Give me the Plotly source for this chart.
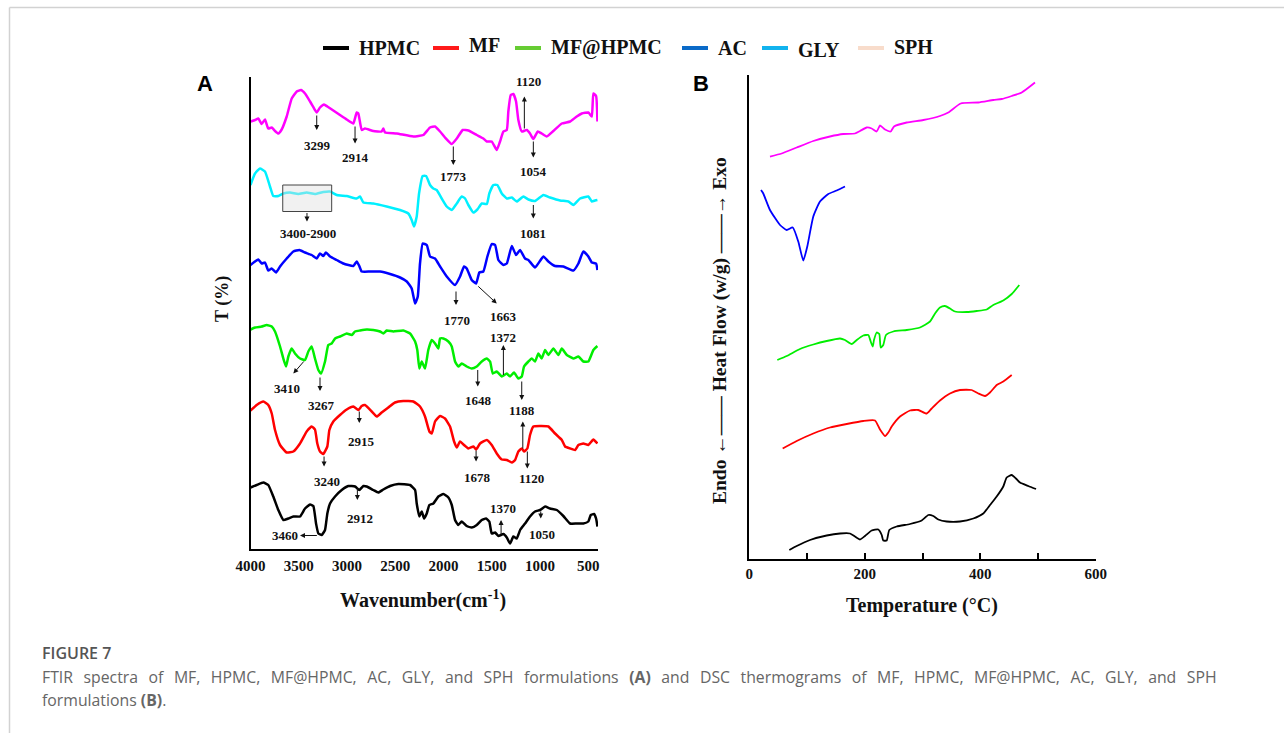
import plotly.graph_objects as go

W, H = 1284, 733

# ---------------- FTIR spectra (panel A): wavenumber (cm-1) vs stacked transmittance (a.u.)
hpmc_wn = [4000, 3936, 3867, 3816, 3764, 3712, 3660, 3608, 3556, 3487, 3435, 3383, 3349, 3321, 3297, 3262,
           3228, 3204, 3176, 3124, 3055, 2987, 2917, 2873, 2831, 2796, 2728, 2676, 2624, 2554, 2468, 2347,
           2295, 2278, 2251, 2226, 2202, 2174, 2147, 2106, 2054, 2002, 1950, 1915, 1881, 1847, 1812, 1760,
           1708, 1656, 1604, 1560, 1526, 1501, 1466, 1432, 1380, 1345, 1311, 1277, 1242, 1207, 1156, 1104,
           1052, 1000, 948, 897, 827, 759, 689, 620, 552, 500, 475, 441, 420, 406]
hpmc_t = [12.5, 13.0, 13.5, 13.0, 10.7, 8.0, 6.0, 6.3, 6.7, 6.7, 8.3, 9.1, 8.8, 5.3, 3.3, 3.0,
          4.0, 7.3, 9.3, 10.7, 12.0, 12.8, 12.7, 12.0, 12.8, 12.7, 12.0, 11.5, 12.1, 12.8, 13.2, 13.0,
          12.0, 9.3, 6.7, 7.7, 6.3, 7.3, 9.0, 9.3, 10.7, 11.2, 10.5, 9.0, 6.0, 5.0, 5.7, 4.8,
          4.5, 5.0, 6.0, 6.3, 5.7, 3.3, 3.5, 2.8, 3.2, 2.5, 1.3, 2.7, 2.3, 4.0, 5.3, 6.7,
          7.7, 8.0, 8.7, 8.3, 8.0, 6.8, 5.3, 5.3, 5.3, 5.7, 7.0, 7.2, 6.3, 4.7]

mf_wn = [4000, 3936, 3867, 3816, 3780, 3746, 3694, 3625, 3556, 3487, 3418, 3366, 3332, 3308, 3280, 3246,
         3204, 3183, 3142, 3073, 3003, 2935, 2883, 2848, 2814, 2744, 2692, 2641, 2572, 2503, 2417, 2313,
         2244, 2192, 2147, 2122, 2088, 2036, 1985, 1933, 1891, 1863, 1829, 1788, 1743, 1691, 1663, 1622,
         1552, 1501, 1449, 1397, 1345, 1293, 1259, 1225, 1190, 1166, 1132, 1104, 1070, 1000, 914, 845,
         775, 741, 689, 637, 603, 552, 500, 448, 406]
mf_t = [27.9, 29.0, 29.7, 29.0, 27.3, 24.0, 21.0, 19.5, 19.7, 21.3, 23.7, 24.7, 24.1, 21.3, 19.7, 19.2,
        20.7, 24.0, 25.7, 27.0, 28.1, 28.7, 28.0, 28.8, 29.0, 27.7, 26.7, 27.5, 28.5, 29.5, 29.8, 29.7,
        28.7, 26.7, 23.7, 23.3, 25.7, 26.8, 26.3, 24.7, 21.7, 20.5, 21.7, 21.0, 20.3, 20.7, 20.1, 21.3,
        22.0, 21.0, 19.3, 18.1, 18.0, 17.5, 18.0, 19.7, 20.3, 19.7, 20.3, 23.0, 24.7, 24.8, 24.7, 23.3,
        22.0, 20.7, 20.3, 20.0, 21.0, 21.3, 21.0, 22.1, 21.3]

mfh_wn = [4000, 3953, 3884, 3832, 3780, 3746, 3694, 3660, 3632, 3608, 3573, 3539, 3487, 3435, 3401, 3366,
          3332, 3297, 3269, 3228, 3194, 3159, 3124, 3073, 3003, 2951, 2917, 2865, 2796, 2728, 2658, 2624,
          2589, 2520, 2417, 2347, 2295, 2272, 2251, 2226, 2192, 2158, 2122, 2088, 2054, 2036, 2002, 1950,
          1915, 1881, 1847, 1812, 1760, 1708, 1656, 1604, 1552, 1518, 1490, 1449, 1397, 1345, 1311, 1270,
          1225, 1190, 1166, 1121, 1086, 1052, 1018, 983, 948, 914, 862, 811, 775, 723, 655, 603,
          552, 500, 448, 406]
mfh_t = [44.1, 44.5, 44.7, 45.0, 44.7, 43.7, 40.7, 38.3, 36.7, 38.7, 40.3, 39.3, 38.3, 38.0, 39.7, 40.7,
         38.3, 36.0, 35.3, 37.7, 41.0, 41.3, 42.3, 42.7, 43.3, 43.0, 43.7, 43.9, 44.1, 44.0, 43.7, 43.3,
         43.9, 43.7, 43.9, 43.3, 41.7, 40.0, 36.3, 37.7, 36.3, 40.0, 42.0, 41.3, 40.3, 42.3, 42.3, 41.7,
         40.7, 37.7, 36.7, 37.3, 36.7, 36.3, 36.7, 37.7, 38.3, 37.7, 35.3, 35.7, 34.7, 35.3, 34.7, 35.5,
         34.3, 34.7, 36.7, 37.7, 38.3, 37.7, 39.3, 38.3, 40.0, 39.0, 40.3, 39.0, 40.3, 39.0, 38.3, 38.7,
         37.7, 37.7, 40.0, 40.8]

ac_wn = [4000, 3953, 3919, 3884, 3850, 3816, 3780, 3736, 3694, 3625, 3556, 3494, 3435, 3366, 3314, 3280,
         3246, 3218, 3176, 3107, 3038, 2935, 2900, 2873, 2848, 2762, 2658, 2554, 2451, 2381, 2330, 2295,
         2267, 2244, 2216, 2174, 2140, 2088, 2036, 1967, 1881, 1829, 1788, 1760, 1708, 1663, 1629, 1588,
         1546, 1501, 1466, 1432, 1380, 1345, 1293, 1249, 1207, 1156, 1121, 1052, 966, 914, 845, 759,
         655, 603, 552, 500, 464, 420, 406]
ac_t = [57.0, 57.7, 58.1, 57.3, 57.5, 55.9, 56.3, 55.5, 56.7, 58.3, 59.7, 60.0, 59.5, 59.0, 58.3, 59.3,
        58.8, 59.5, 58.7, 58.0, 57.3, 56.8, 57.7, 56.8, 55.7, 55.7, 55.7, 55.2, 54.5, 53.7, 52.3, 49.3,
        50.7, 57.3, 61.3, 61.0, 58.7, 58.3, 56.7, 54.7, 53.0, 54.7, 56.7, 56.3, 54.0, 53.3, 55.5, 55.7,
        58.7, 61.2, 61.0, 58.0, 57.0, 57.3, 60.8, 59.0, 60.0, 58.3, 58.0, 56.5, 58.7, 57.7, 56.8, 56.7,
        55.9, 57.3, 59.7, 58.7, 57.5, 57.3, 56.0]

gly_wn = [4000, 3953, 3902, 3850, 3798, 3764, 3712, 3660, 3591, 3505, 3418, 3332, 3246, 3176, 3107, 3003,
          2900, 2865, 2831, 2728, 2589, 2451, 2365, 2330, 2306, 2278, 2254, 2216, 2181, 2140, 2106, 2071,
          2019, 1967, 1915, 1863, 1812, 1777, 1743, 1691, 1650, 1604, 1552, 1526, 1484, 1443, 1397, 1345,
          1293, 1242, 1173, 1121, 1052, 966, 897, 793, 707, 655, 586, 500, 464, 430, 406]
gly_t = [73.0, 75.3, 76.3, 75.7, 72.7, 70.8, 70.8, 71.3, 71.5, 71.2, 71.5, 71.2, 71.6, 71.7, 71.0, 70.8,
         70.3, 70.7, 69.5, 69.3, 68.7, 68.0, 67.3, 66.0, 64.7, 66.7, 71.3, 74.8, 74.8, 73.0, 72.3, 72.0,
         70.3, 68.7, 68.0, 69.3, 70.7, 70.3, 69.0, 67.5, 68.1, 69.3, 69.2, 71.3, 73.0, 73.0, 71.3, 70.3,
         70.5, 69.7, 70.7, 70.1, 69.8, 71.0, 70.5, 69.9, 69.7, 69.0, 70.3, 70.7, 69.7, 69.9, 70.0]

sph_wn = [4000, 3953, 3919, 3884, 3850, 3816, 3780, 3746, 3712, 3677, 3625, 3573, 3521, 3477, 3435, 3383,
          3332, 3314, 3280, 3238, 3204, 3142, 3073, 3003, 2935, 2900, 2883, 2848, 2814, 2728, 2641, 2624,
          2606, 2485, 2313, 2209, 2140, 2088, 2036, 1985, 1915, 1863, 1801, 1743, 1656, 1588, 1552, 1501,
          1449, 1415, 1380, 1345, 1329, 1304, 1277, 1249, 1225, 1190, 1138, 1104, 1070, 1024, 983, 931,
          862, 775, 689, 620, 568, 500, 464, 448, 420, 406]
sph_t = [85.7, 86.0, 86.3, 85.2, 86.1, 84.3, 84.5, 83.8, 83.3, 84.1, 86.7, 90.3, 91.7, 92.0, 91.3, 89.7,
         88.0, 87.5, 88.5, 89.1, 88.7, 87.9, 87.0, 86.1, 85.3, 87.5, 87.3, 84.0, 84.3, 83.8, 83.7, 84.3,
         83.5, 83.3, 82.7, 83.0, 84.5, 84.7, 83.7, 82.5, 81.2, 82.3, 84.0, 83.9, 83.0, 82.3, 81.7, 81.7,
         80.0, 81.7, 83.7, 84.0, 87.7, 91.0, 91.2, 89.7, 86.0, 83.7, 84.0, 83.3, 82.2, 83.7, 83.3, 82.7,
         83.8, 85.3, 85.7, 86.7, 87.3, 87.5, 86.7, 91.3, 90.8, 85.7]

wn_ticks = [4000, 3500, 3000, 2500, 2000, 1500, 1000, 500]

# peak call-outs: (label, wavenumber, transmittance)
ftir_labels = [
    ("3299", 3308, 80.8), ("2914", 2917, 78.5), ("1773", 1899, 74.7), ("1120", 1121, 93.7), ("1054", 1070, 75.7),
    ("3400-2900", 3401, 63.3), ("1081", 1070, 63.4),
    ("1770", 1863, 46.0), ("1663", 1380, 46.8),
    ("3410", 3625, 32.3), ("3267", 3269, 29.0), ("1648", 1643, 30.0), ("1372", 1380, 42.5), ("1188", 1186, 28.0),
    ("3240", 3204, 13.7), ("2915", 2848, 21.7), ("1678", 1650, 14.5), ("1120", 1086, 14.3),
    ("3460", 3642, 2.9), ("2912", 2865, 6.3), ("1370", 1380, 8.3), ("1050", 983, 3.2),
]
# pointer arrows: (tail wn, tail T, head wn, head T)
ftir_arrows = [
    (3314, 87.2, 3314, 84.0), (2917, 85.0, 2917, 81.3), (1899, 81.0, 1899, 77.0), (1163, 84.0, 1163, 90.7),
    (1070, 82.0, 1070, 78.5),
    (3415, 67.7, 3415, 65.7), (1070, 69.3, 1070, 66.3),
    (1871, 52.0, 1871, 49.0), (1656, 53.0, 1449, 49.3),
    (3435, 38.0, 3556, 35.3), (3280, 34.8, 3280, 31.8), (1646, 36.3, 1646, 32.7), (1380, 34.7, 1380, 41.0),
    (1190, 34.0, 1190, 30.0),
    (3238, 19.0, 3238, 16.7), (2873, 28.0, 2873, 25.4), (1663, 20.2, 1663, 17.7), (1179, 20.0, 1179, 25.7),
    (1132, 20.0, 1132, 16.3),
    (3297, 2.9, 3487, 2.9), (2893, 12.7, 2893, 10.0), (1404, 2.7, 1404, 6.0), (993, 8.0, 993, 6.3),
]
# highlighted window on the GLY spectrum: (wn_left, wn_right, T_low, T_high)
gly_box = (3666, 3159, 67.7, 73.0)

# ---------------- DSC thermograms (panel B): temperature (°C) vs stacked heat flow (a.u.)
hpmc_temp = [69.3, 82.1, 105.1, 134.0, 157.1, 174.4, 183.0, 191.7, 200.3, 211.9, 223.4, 229.3, 232.0, 237.9,
             242.4, 255.2, 278.3, 298.5, 310.0, 318.6, 327.3, 341.8, 364.8, 387.9, 405.2, 416.8, 428.4,
             439.8, 445.7, 454.4, 461.8, 468.7, 483.1, 496.5]
hpmc_hf = [2.0, 2.8, 4.0, 4.9, 5.3, 5.3, 4.7, 4.1, 4.8, 5.9, 6.1, 5.0, 3.9, 3.9,
           6.0, 6.7, 7.2, 7.9, 9.0, 8.8, 8.1, 7.7, 7.7, 8.3, 9.3, 11.0, 12.7,
           14.7, 16.5, 17.0, 16.3, 15.5, 14.8, 14.2]

mf_temp = [57.8, 82.1, 110.8, 139.7, 168.7, 197.4, 217.7, 226.3, 235.0, 240.7, 246.6, 261.0, 278.3,
           292.6, 307.2, 315.8, 330.2, 347.5, 364.8, 385.1, 396.5, 408.1, 416.8, 428.4, 439.8, 454.4]
mf_hf = [22.3, 23.8, 25.3, 26.5, 27.2, 27.8, 27.9, 26.1, 24.8, 25.5, 26.7, 28.7, 29.9,
         30.0, 29.3, 30.3, 31.9, 33.3, 34.0, 34.0, 33.3, 32.8, 33.5, 35.0, 35.7, 37.0]

mfh_temp = [48.5, 64.8, 87.8, 110.8, 134.0, 157.1, 165.7, 177.3, 186.0, 197.4, 206.1, 210.2, 213.7, 215.9,
            220.6, 225.1, 227.5, 232.0, 236.7, 249.4, 272.6, 295.6, 312.9, 321.6, 330.2, 338.9, 347.5,
            356.2, 376.5, 393.8, 411.1, 422.5, 439.8, 454.4, 467.5]
mfh_hf = [40.0, 40.8, 42.2, 43.1, 43.8, 44.3, 44.0, 43.2, 44.0, 44.9, 45.0, 43.7, 42.7, 44.0,
          45.5, 45.2, 42.5, 43.0, 45.0, 45.7, 46.0, 46.5, 47.7, 49.3, 50.5, 50.8, 50.3,
          49.7, 49.6, 49.8, 50.1, 51.0, 51.9, 53.2, 55.0]

ac_temp = [20.3, 24.2, 35.8, 53.2, 64.8, 75.2, 84.8, 93.5, 100.4, 110.8, 122.4, 136.8, 151.3, 165.7]
ac_hf = [74.0, 73.3, 70.0, 67.0, 66.0, 66.5, 63.7, 59.9, 62.7, 68.7, 71.7, 73.2, 73.9, 74.7]

sph_temp = [35.8, 56.1, 82.1, 110.8, 139.7, 162.8, 183.0, 191.7, 203.3, 211.9, 220.6, 226.3, 235.0,
            244.8, 250.6, 272.6, 301.3, 330.2, 344.6, 366.1, 396.5, 422.5, 437.1, 454.4, 471.7, 494.7]
sph_hf = [80.7, 81.3, 82.5, 83.8, 84.7, 85.2, 85.3, 85.8, 86.5, 86.3, 85.7, 86.9, 86.1,
          85.7, 86.7, 87.5, 88.0, 88.8, 89.5, 91.3, 91.5, 92.0, 92.2, 92.8, 93.5, 95.5]

temp_ticks = [0, 200, 400, 600]

# legend entries (name, swatch colour)
legend_names = ["HPMC", "MF", "MF@HPMC", "AC", "GLY", "SPH"]
legend_colors = ["#000000", "#ff1a1a", "#66cc33", "#0a6ac8", "#12b3ee", "#f8dccb"]

caption_line1 = ("FTIR spectra of MF, HPMC, MF@HPMC, AC, GLY, and SPH formulations <b>(A)</b> and DSC "
                 "thermograms of MF, HPMC, MF@HPMC, AC, GLY, and SPH")
caption_line2 = "formulations <b>(B)</b>."

# ---------------- styling
SERIF = "Liberation Serif, Times New Roman, serif"
SANS = "Liberation Sans, Arial, sans-serif"
CAP_FONT = "Open Sans"
C_SPH, C_GLY, C_AC, C_MFH, C_MF, C_HPMC = "#ff00ff", "#00f0ff", "#0000ff", "#00ee00", "#ff0000", "#000000"


def px(x):
    return x / W


def py(y):
    return 1 - y / H


def paper_text(x, y, text, font, xanchor="center", angle=0):
    return dict(x=px(x), y=py(y), xref="paper", yref="paper", showarrow=False, text=text,
                xanchor=xanchor, yanchor="middle", textangle=angle, font=font)


fig = go.Figure()

for wn, t, c in [(sph_wn, sph_t, C_SPH), (gly_wn, gly_t, C_GLY), (ac_wn, ac_t, C_AC),
                 (mfh_wn, mfh_t, C_MFH), (mf_wn, mf_t, C_MF), (hpmc_wn, hpmc_t, C_HPMC)]:
    fig.add_trace(go.Scatter(x=wn, y=t, mode="lines", xaxis="x", yaxis="y", showlegend=False,
                             hoverinfo="skip",
                             line=dict(color=c, width=2.5, shape="spline", smoothing=0.4)))

for tc, hf, c in [(sph_temp, sph_hf, C_SPH), (ac_temp, ac_hf, C_AC), (mfh_temp, mfh_hf, C_MFH),
                  (mf_temp, mf_hf, C_MF), (hpmc_temp, hpmc_hf, C_HPMC)]:
    fig.add_trace(go.Scatter(x=tc, y=hf, mode="lines", xaxis="x2", yaxis="y2", showlegend=False,
                             hoverinfo="skip",
                             line=dict(color=c, width=1.8, shape="spline", smoothing=0.5)))

annotations = []
shapes = []

# peak labels and arrows on panel A
for text, x, y in ftir_labels:
    annotations.append(dict(x=x, y=y, xref="x", yref="y", text=f"<b>{text}</b>", showarrow=False,
                            xanchor="center", yanchor="middle",
                            font=dict(family=SERIF, size=13, color="#111")))
for x0, y0, x1, y1 in ftir_arrows:
    annotations.append(dict(x=x1, y=y1, ax=x0, ay=y0, xref="x", yref="y", axref="x", ayref="y",
                            text="", showarrow=True, arrowhead=2, arrowsize=1, arrowwidth=1,
                            arrowcolor="#111", standoff=0, startstandoff=0))
shapes.append(dict(type="rect", xref="x", yref="y", x0=gly_box[0], x1=gly_box[1], y0=gly_box[2],
                   y1=gly_box[3], line=dict(color="#444", width=1), fillcolor="rgba(225,225,225,0.45)"))

# axis titles and panel letters
title_font = dict(family=SERIF, size=20, color="#111")
annotations += [
    paper_text(423, 599, "<b>Wavenumber(cm<sup>-1</sup>)</b>", title_font),
    paper_text(922, 605, "<b>Temperature (°C)</b>", title_font),
    paper_text(222, 299, "<b>T (%)</b>", dict(family=SERIF, size=18, color="#111"), angle=-90),
    paper_text(720, 330, "<b>Endo ←—— Heat Flow (w/g) ——→ Exo</b>",
               dict(family=SERIF, size=19.5, color="#111"), angle=-90),
    paper_text(205, 83, "<b>A</b>", dict(family=SANS, size=22, color="#000")),
    paper_text(701, 84, "<b>B</b>", dict(family=SANS, size=22, color="#000")),
]

# legend row
leg_line_x = [323, 433, 515, 682, 762, 858]
leg_text_y = [48, 45, 48, 48, 50, 47]
for name, col, lx, ty in zip(legend_names, legend_colors, leg_line_x, leg_text_y):
    shapes.append(dict(type="line", xref="paper", yref="paper", x0=px(lx), x1=px(lx + 26),
                       y0=py(48), y1=py(48), line=dict(color=col, width=4)))
    annotations.append(paper_text(lx + 34, ty, f"<b>{name}</b>", title_font, xanchor="left"))

# page frame and caption (first caption line is justified: widened word gaps)
shapes += [
    dict(type="line", xref="paper", yref="paper", x0=px(9.5), x1=1, y0=py(7.5), y1=py(7.5),
         line=dict(color="#d2d2d2", width=1.5)),
    dict(type="line", xref="paper", yref="paper", x0=px(9.5), x1=px(9.5), y0=py(7.5), y1=0,
         line=dict(color="#d2d2d2", width=1.5)),
]
cap_font = dict(family=CAP_FONT, size=15.8, color="#666")
annotations += [
    paper_text(40, 653, "FIGURE 7", dict(family=CAP_FONT, size=16, color="#555", weight=600), xanchor="left"),
    paper_text(40, 677, caption_line1.replace(" ", "\u2002\u2009"), cap_font, xanchor="left"),
    paper_text(40, 700, caption_line2, cap_font, xanchor="left"),
]

axis_common = dict(showgrid=False, zeroline=False, showline=True, linecolor="#000", linewidth=2,
                   automargin=False)

fig.update_layout(
    width=W, height=H, margin=dict(l=0, r=0, t=0, b=0, autoexpand=False),
    paper_bgcolor="white", plot_bgcolor="white", showlegend=False,
    xaxis=dict(domain=[px(250.5), px(598)], range=[4000, 400], anchor="y", tickvals=wn_ticks,
               ticks="", ticklabelstandoff=2,
               tickfont=dict(family=SERIF, size=15, color="#111", weight=700), **axis_common),
    yaxis=dict(domain=[py(549.3), py(76.7)], range=[0.14, 94.66], anchor="x", showticklabels=False,
               ticks="", **axis_common),
    xaxis2=dict(domain=[px(749.3), px(1095.8)], range=[0, 600], anchor="y2", tickvals=temp_ticks,
                ticks="inside", ticklen=6, tickwidth=1.5, tickcolor="#000", ticklabelstandoff=0,
                minor=dict(dtick=100, ticks="inside", ticklen=6, tickwidth=1.5, tickcolor="#000",
                           showgrid=False),
                tickfont=dict(family=SERIF, size=15, color="#111", weight=700), **axis_common),
    yaxis2=dict(domain=[py(559.3), py(75)], range=[0.14, 97.0], anchor="x2", showticklabels=False,
                ticks="", **axis_common),
    annotations=annotations,
    shapes=shapes,
)

fig.write_html("out.html")
